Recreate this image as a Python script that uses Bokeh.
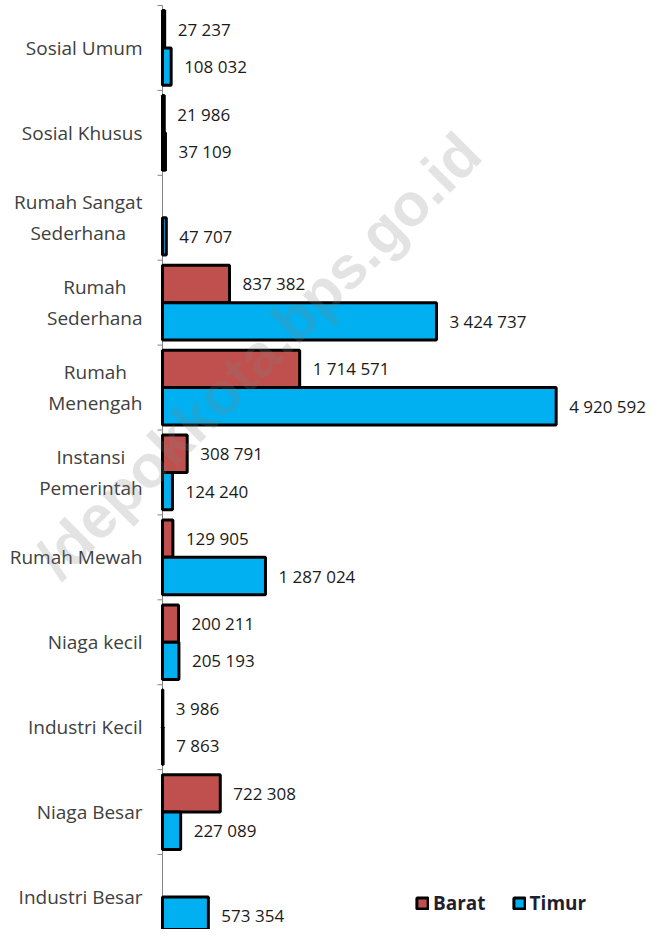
from bokeh.plotting import figure
from bokeh.models import Range1d, ColumnDataSource, Legend, LegendItem, Label
from bokeh.core.properties import value
from bokeh.embed import file_html
from bokeh.resources import INLINE

categories = ["Sosial Umum", "Sosial Khusus", "Rumah Sangat Sederhana", "Rumah Sederhana",
              "Rumah Menengah", "Instansi Pemerintah", "Rumah Mewah", "Niaga kecil",
              "Industri Kecil", "Niaga Besar", "Industri Besar"]
tick_labels = ["Sosial Umum", "Sosial Khusus", "Rumah Sangat\nSederhana", "Rumah\nSederhana",
               "Rumah\nMenengah", "Instansi\nPemerintah", "Rumah Mewah", "Niaga kecil",
               "Industri Kecil", "Niaga Besar", "Industri Besar"]
barat = [27237, 21986, None, 837382, 1714571, 308791, 129905, 200211, 3986, 722308, None]
timur = [108032, 37109, 47707, 3424737, 4920592, 124240, 1287024, 205193, 7863, 227089, 573354]
series_names = ["Barat", "Timur"]
series_colors = ["#C0504D", "#00B0F0"]


def fmt(v):
    return f"{v:,}".replace(",", " ")


# approximate Open Sans advance widths (em) used to centre lines of two-line labels
EM = {" ": 0.26, "a": 0.556, "e": 0.561, "h": 0.614, "m": 0.93, "u": 0.614, "n": 0.614,
      "g": 0.549, "t": 0.343, "r": 0.408, "d": 0.613, "i": 0.253, "s": 0.477, "R": 0.635,
      "S": 0.539, "M": 0.89, "I": 0.3, "P": 0.591}
CAT_FS = 19


def text_w(s):
    return sum(EM.get(c, 0.55) for c in s) * CAT_FS


n = len(categories)
centers = [i + 0.5 for i in range(n)]
bounds = [i for i in range(0, n + 1)]

W, H = 648, 929
px_per_unit = 80e-6          # horizontal scale (pixels per value unit)
axis_px = 162                # axis position inside the figure
band_px = 84.9               # category band height in pixels
top_px = 5                   # first band boundary
p = figure(width=W, height=H, output_backend="svg", toolbar_location=None,
           x_range=Range1d(-axis_px / px_per_unit, (W - axis_px) / px_per_unit),
           y_range=Range1d(start=(H - top_px) / band_px, end=-top_px / band_px),
           x_axis_location=None, y_axis_location=None,
           min_border_left=0, min_border_right=0, min_border_top=0, min_border_bottom=0)
p.xgrid.visible = False
p.ygrid.visible = False
p.outline_line_color = None
p.background_fill_color = "white"
p.border_fill_color = "white"

# category axis: line, boundary ticks and labels
p.segment(x0=[0], y0=[bounds[0]], x1=[0], y1=[bounds[-1]], line_color="#868686", line_width=1)
p.ray(x=[0] * len(bounds), y=bounds, length=5, length_units="screen", angle=180,
      angle_units="deg", line_color="#868686", line_width=1)

lab = dict(x=[], y=[], text=[], xo=[], yo=[], align=[])
for c, t in zip(centers, tick_labels):
    lines = t.split("\n")
    maxw = max(text_w(s) for s in lines)
    for j, s in enumerate(lines):
        lab["x"].append(0)
        lab["y"].append(c)
        lab["text"].append(s)
        lab["yo"].append((j - (len(lines) - 1) / 2) * 31)
        if len(lines) == 1:
            lab["xo"].append(-20)
            lab["align"].append("right")
        else:
            lab["xo"].append(-20 - maxw / 2)
            lab["align"].append("center")
p.text(x="x", y="y", text="text", x_offset="xo", y_offset="yo", text_align="align",
       source=ColumnDataSource(lab), text_baseline="middle", text_font=value("Open Sans"),
       text_font_size=f"{CAT_FS}px", text_color="#404040")

renderers = []
for k, (vals, name, col) in enumerate(zip([barat, timur], series_names, series_colors)):
    off = -0.22 if k == 0 else 0.22
    ys = [c + off for c, v in zip(centers, vals) if v is not None]
    xs = [v for v in vals if v is not None]
    src = ColumnDataSource(dict(y=ys, x=xs, lab=[fmt(v) for v in xs]))
    r = p.hbar(y="y", right="x", left=0, height=0.44, source=src,
               fill_color=col, line_color="black", line_width=3)
    renderers.append(r)
    p.text(x="x", y="y", text="lab", source=src, x_offset=13,
           text_baseline="middle", text_align="left",
           text_font=value("Open Sans"), text_font_size="17px", text_color="#1a1a1a")

legend = Legend(items=[LegendItem(label=series_names[i], renderers=[renderers[i]]) for i in range(2)],
                orientation="horizontal", location=(415, 13),
                glyph_width=14, glyph_height=14, label_standoff=4, spacing=26,
                padding=0, margin=0, border_line_alpha=0, background_fill_alpha=0,
                label_text_font="Open Sans", label_text_font_size="19px",
                label_text_font_style="bold", label_text_color="#1f1f2f", label_height=20)
p.add_layout(legend)

wm = Label(x=470, y=H - 143, x_units="screen", y_units="screen", text="/depokkota.bps.go.id",
           angle=45, angle_units="deg", text_align="right", text_baseline="alphabetic",
           text_font="Liberation Sans", text_font_style="bold", text_font_size="60px",
           text_color="#808080", text_alpha=0.22)
p.add_layout(wm)

open("out.html", "w").write(file_html(p, INLINE))
